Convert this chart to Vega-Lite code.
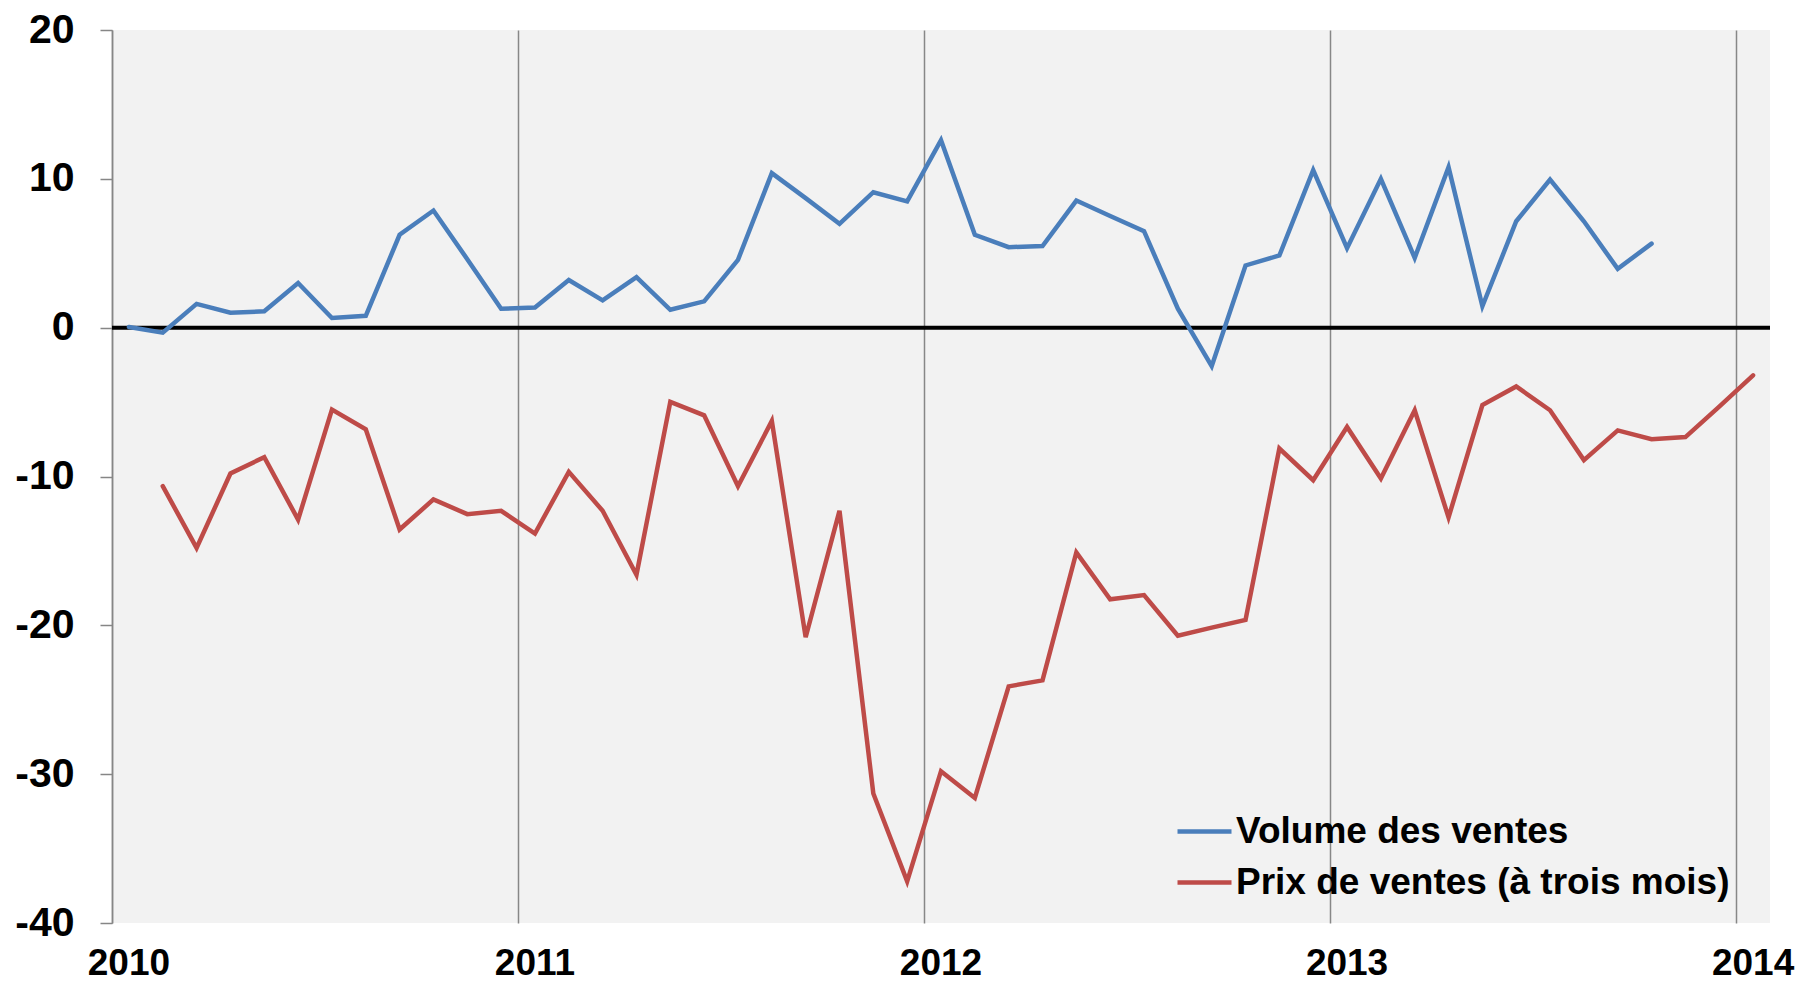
{
  "$schema": "https://vega.github.io/schema/vega-lite/v6.json",
  "width": 1658,
  "height": 893,
  "autosize": {"type": "none"},
  "padding": {"left": 112, "top": 30, "right": 29, "bottom": 62},
  "background": "#ffffff",
  "config": {
    "view": {"fill": "#f2f2f2", "stroke": null},
    "font": "Liberation Sans"
  },
  "datasets": {
    "series": [
      {"m": "2010-01", "s": "Volume des ventes", "v": 0.05},
      {"m": "2010-02", "s": "Volume des ventes", "v": -0.34},
      {"m": "2010-03", "s": "Volume des ventes", "v": 1.6},
      {"m": "2010-04", "s": "Volume des ventes", "v": 1.0},
      {"m": "2010-05", "s": "Volume des ventes", "v": 1.1},
      {"m": "2010-06", "s": "Volume des ventes", "v": 3.0},
      {"m": "2010-07", "s": "Volume des ventes", "v": 0.65},
      {"m": "2010-08", "s": "Volume des ventes", "v": 0.8},
      {"m": "2010-09", "s": "Volume des ventes", "v": 6.24},
      {"m": "2010-10", "s": "Volume des ventes", "v": 7.87},
      {"m": "2010-11", "s": "Volume des ventes", "v": 4.6},
      {"m": "2010-12", "s": "Volume des ventes", "v": 1.27},
      {"m": "2011-01", "s": "Volume des ventes", "v": 1.35},
      {"m": "2011-02", "s": "Volume des ventes", "v": 3.2},
      {"m": "2011-03", "s": "Volume des ventes", "v": 1.83},
      {"m": "2011-04", "s": "Volume des ventes", "v": 3.4},
      {"m": "2011-05", "s": "Volume des ventes", "v": 1.2},
      {"m": "2011-06", "s": "Volume des ventes", "v": 1.77},
      {"m": "2011-07", "s": "Volume des ventes", "v": 4.56},
      {"m": "2011-08", "s": "Volume des ventes", "v": 10.38},
      {"m": "2011-09", "s": "Volume des ventes", "v": 8.7},
      {"m": "2011-10", "s": "Volume des ventes", "v": 6.98},
      {"m": "2011-11", "s": "Volume des ventes", "v": 9.1},
      {"m": "2011-12", "s": "Volume des ventes", "v": 8.48},
      {"m": "2012-01", "s": "Volume des ventes", "v": 12.6},
      {"m": "2012-02", "s": "Volume des ventes", "v": 6.24},
      {"m": "2012-03", "s": "Volume des ventes", "v": 5.41},
      {"m": "2012-04", "s": "Volume des ventes", "v": 5.48},
      {"m": "2012-05", "s": "Volume des ventes", "v": 8.54},
      {"m": "2012-06", "s": "Volume des ventes", "v": 7.5},
      {"m": "2012-07", "s": "Volume des ventes", "v": 6.48},
      {"m": "2012-08", "s": "Volume des ventes", "v": 1.27},
      {"m": "2012-09", "s": "Volume des ventes", "v": -2.59},
      {"m": "2012-10", "s": "Volume des ventes", "v": 4.18},
      {"m": "2012-11", "s": "Volume des ventes", "v": 4.85},
      {"m": "2012-12", "s": "Volume des ventes", "v": 10.58},
      {"m": "2013-01", "s": "Volume des ventes", "v": 5.34},
      {"m": "2013-02", "s": "Volume des ventes", "v": 10.0},
      {"m": "2013-03", "s": "Volume des ventes", "v": 4.69},
      {"m": "2013-04", "s": "Volume des ventes", "v": 10.78},
      {"m": "2013-05", "s": "Volume des ventes", "v": 1.44},
      {"m": "2013-06", "s": "Volume des ventes", "v": 7.15},
      {"m": "2013-07", "s": "Volume des ventes", "v": 9.95},
      {"m": "2013-08", "s": "Volume des ventes", "v": 7.15},
      {"m": "2013-09", "s": "Volume des ventes", "v": 3.95},
      {"m": "2013-10", "s": "Volume des ventes", "v": 5.65},
      {"m": "2010-02", "s": "Prix de ventes (à trois mois)", "v": -10.65},
      {"m": "2010-03", "s": "Prix de ventes (à trois mois)", "v": -14.8},
      {"m": "2010-04", "s": "Prix de ventes (à trois mois)", "v": -9.8},
      {"m": "2010-05", "s": "Prix de ventes (à trois mois)", "v": -8.7},
      {"m": "2010-06", "s": "Prix de ventes (à trois mois)", "v": -12.9},
      {"m": "2010-07", "s": "Prix de ventes (à trois mois)", "v": -5.5},
      {"m": "2010-08", "s": "Prix de ventes (à trois mois)", "v": -6.83},
      {"m": "2010-09", "s": "Prix de ventes (à trois mois)", "v": -13.56},
      {"m": "2010-10", "s": "Prix de ventes (à trois mois)", "v": -11.54},
      {"m": "2010-11", "s": "Prix de ventes (à trois mois)", "v": -12.53},
      {"m": "2010-12", "s": "Prix de ventes (à trois mois)", "v": -12.31},
      {"m": "2011-01", "s": "Prix de ventes (à trois mois)", "v": -13.83},
      {"m": "2011-02", "s": "Prix de ventes (à trois mois)", "v": -9.69},
      {"m": "2011-03", "s": "Prix de ventes (à trois mois)", "v": -12.3},
      {"m": "2011-04", "s": "Prix de ventes (à trois mois)", "v": -16.6},
      {"m": "2011-05", "s": "Prix de ventes (à trois mois)", "v": -4.99},
      {"m": "2011-06", "s": "Prix de ventes (à trois mois)", "v": -5.89},
      {"m": "2011-07", "s": "Prix de ventes (à trois mois)", "v": -10.65},
      {"m": "2011-08", "s": "Prix de ventes (à trois mois)", "v": -6.27},
      {"m": "2011-09", "s": "Prix de ventes (à trois mois)", "v": -20.8},
      {"m": "2011-10", "s": "Prix de ventes (à trois mois)", "v": -12.31},
      {"m": "2011-11", "s": "Prix de ventes (à trois mois)", "v": -31.3},
      {"m": "2011-12", "s": "Prix de ventes (à trois mois)", "v": -37.2},
      {"m": "2012-01", "s": "Prix de ventes (à trois mois)", "v": -29.8},
      {"m": "2012-02", "s": "Prix de ventes (à trois mois)", "v": -31.6},
      {"m": "2012-03", "s": "Prix de ventes (à trois mois)", "v": -24.1},
      {"m": "2012-04", "s": "Prix de ventes (à trois mois)", "v": -23.7},
      {"m": "2012-05", "s": "Prix de ventes (à trois mois)", "v": -15.1},
      {"m": "2012-06", "s": "Prix de ventes (à trois mois)", "v": -18.25},
      {"m": "2012-07", "s": "Prix de ventes (à trois mois)", "v": -17.97},
      {"m": "2012-08", "s": "Prix de ventes (à trois mois)", "v": -20.7},
      {"m": "2012-09", "s": "Prix de ventes (à trois mois)", "v": -20.15},
      {"m": "2012-10", "s": "Prix de ventes (à trois mois)", "v": -19.64},
      {"m": "2012-11", "s": "Prix de ventes (à trois mois)", "v": -8.12},
      {"m": "2012-12", "s": "Prix de ventes (à trois mois)", "v": -10.25},
      {"m": "2013-01", "s": "Prix de ventes (à trois mois)", "v": -6.67},
      {"m": "2013-02", "s": "Prix de ventes (à trois mois)", "v": -10.14},
      {"m": "2013-03", "s": "Prix de ventes (à trois mois)", "v": -5.55},
      {"m": "2013-04", "s": "Prix de ventes (à trois mois)", "v": -12.75},
      {"m": "2013-05", "s": "Prix de ventes (à trois mois)", "v": -5.2},
      {"m": "2013-06", "s": "Prix de ventes (à trois mois)", "v": -3.95},
      {"m": "2013-07", "s": "Prix de ventes (à trois mois)", "v": -5.55},
      {"m": "2013-08", "s": "Prix de ventes (à trois mois)", "v": -8.9},
      {"m": "2013-09", "s": "Prix de ventes (à trois mois)", "v": -6.9},
      {"m": "2013-10", "s": "Prix de ventes (à trois mois)", "v": -7.5},
      {"m": "2013-11", "s": "Prix de ventes (à trois mois)", "v": -7.35},
      {"m": "2013-12", "s": "Prix de ventes (à trois mois)", "v": -5.3},
      {"m": "2014-01", "s": "Prix de ventes (à trois mois)", "v": -3.2}
    ],
    "zero": [{"z": 0}]
  },
  "layer": [
    {
      "data": {"name": "zero"},
      "mark": {"type": "rule", "color": "#000000", "strokeWidth": 4},
      "encoding": {
        "y": {"field": "z", "type": "quantitative"}
      }
    },
    {
      "data": {"name": "series"},
      "mark": {"type": "line", "strokeWidth": 4.5, "strokeCap": "round"},
      "encoding": {
        "x": {
          "field": "m",
          "type": "ordinal",
          "sort": "ascending",
          "bandPosition": 0.5,
          "scale": {"type": "band", "paddingInner": 0, "paddingOuter": 0},
          "axis": {
            "title": null,
            "values": ["2010-01", "2011-01", "2012-01", "2013-01", "2014-01"],
            "labelExpr": "slice(datum.value, 0, 4)",
            "bandPosition": 0,
            "domain": false,
            "ticks": false,
            "grid": true,
            "gridColor": "#878787",
            "gridWidth": 1.5,
            "labelAngle": 0,
            "labelFont": "Liberation Sans",
            "labelFontWeight": "bold",
            "labelFontSize": 37,
            "labelColor": "#000000",
            "labelPadding": 22,
            "labelFlush": false,
            "labelOverlap": false,
            "labelBound": false
          }
        },
        "y": {
          "field": "v",
          "type": "quantitative",
          "scale": {"domain": [-40, 20], "nice": false, "zero": false},
          "axis": {
            "title": null,
            "values": [-40, -30, -20, -10, 0, 10, 20],
            "labelExpr": "'' + datum.value",
            "grid": false,
            "domain": true,
            "domainColor": "#868686",
            "domainWidth": 1.5,
            "ticks": true,
            "tickColor": "#868686",
            "tickWidth": 1.5,
            "tickSize": 12,
            "labelFont": "Liberation Sans",
            "labelFontWeight": "bold",
            "labelFontSize": 41,
            "labelColor": "#000000",
            "labelPadding": 26,
            "labelFlush": false,
            "labelOverlap": false,
            "labelBound": false
          }
        },
        "color": {
          "field": "s",
          "type": "nominal",
          "scale": {
            "domain": ["Volume des ventes", "Prix de ventes (à trois mois)"],
            "range": ["#4a7ebb", "#be4b48"]
          },
          "legend": {
            "title": null,
            "orient": "none",
            "legendX": 1063,
            "legendY": 772,
            "padding": 0,
            "symbolType": "stroke",
            "symbolSize": 2916,
            "symbolStrokeWidth": 4.5,
            "labelFont": "Liberation Sans",
            "labelFontWeight": "bold",
            "labelFontSize": 37,
            "labelColor": "#000000",
            "labelOffset": 2,
            "labelLimit": 0,
            "rowPadding": 3
          }
        }
      }
    }
  ]
}
